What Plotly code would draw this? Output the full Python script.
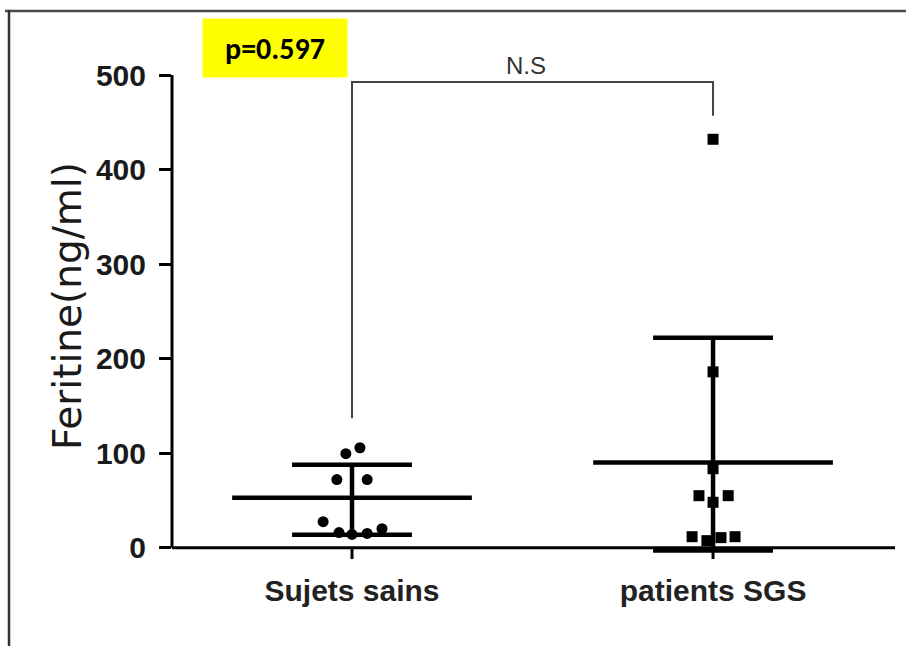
import plotly.graph_objects as go

# ---------------- data ----------------
categories = ["Sujets sains", "patients SGS"]
sains_values = [105.7, 99.4, 72, 72, 27.5, 16, 14, 15, 20]
sgs_values = [432, 186, 83.5, 55, 55, 48, 11.6, 7.4, 10.6, 11.6]
means = [52.8, 90.0]
bar_low = [13.7, -3.0]
bar_high = [87.7, 222.0]
y_ticks = [0, 100, 200, 300, 400, 500]
p_text = "p=0.597"
sig_label = "N.S"
bracket_legs = [137, 457]     # lower ends of the bracket legs (data units)
bracket_top = 492.6

# horizontal scatter spread of the dots (fraction of category spacing)
sains_spread = [0.022, -0.017, -0.042, 0.042, -0.080, -0.036, 0.0, 0.042, 0.083]
sgs_spread = [0.0, 0.0, 0.0, -0.039, 0.042, 0.0, -0.058, -0.017, 0.022, 0.061]

# ---------------- layout geometry ----------------
W, H = 906, 646
L, R, T, B = 172, 11, 75, 87
PW, PH = W - L - R, H - T - B
X_RANGE = [-0.4986, 1.504]
Y_RANGE = [-12, 500]
MEAN_HALF = 0.332
CAP_HALF = 0.166


def px_x(px):
    return (px - L) / PW


def px_y(py):
    return (H - B - py) / PH


fig = go.Figure()

# mean lines, SD bars and caps
for i in range(len(categories)):
    xs = [i - MEAN_HALF, i + MEAN_HALF, None,
          i, i, None,
          i - CAP_HALF, i + CAP_HALF, None,
          i - CAP_HALF, i + CAP_HALF]
    ys = [means[i], means[i], None,
          bar_low[i], bar_high[i], None,
          bar_high[i], bar_high[i], None,
          bar_low[i], bar_low[i]]
    fig.add_trace(go.Scatter(x=xs, y=ys, mode="lines",
                             line=dict(color="black", width=4.5),
                             hoverinfo="skip", showlegend=False))

# dots
fig.add_trace(go.Scatter(
    x=[0 + s for s in sains_spread], y=sains_values, mode="markers",
    marker=dict(symbol="circle", size=11, color="black"),
    showlegend=False, cliponaxis=False))
fig.add_trace(go.Scatter(
    x=[1 + s for s in sgs_spread], y=sgs_values, mode="markers",
    marker=dict(symbol="square", size=11, color="black"),
    showlegend=False, cliponaxis=False))

# significance bracket
fig.add_trace(go.Scatter(
    x=[0, 0, 1, 1], y=[bracket_legs[0], bracket_top, bracket_top, bracket_legs[1]],
    mode="lines", line=dict(color="#444444", width=2),
    hoverinfo="skip", showlegend=False))

shapes = [
    # y axis line (0 -> 500)
    dict(type="line", xref="paper", yref="y", x0=0, x1=0, y0=0, y1=500,
         line=dict(color="black", width=3)),
    # x axis line at y = 0
    dict(type="line", xref="paper", yref="y", x0=0, x1=1, y0=0, y1=0,
         line=dict(color="black", width=3)),
    # image frame: top and left
    dict(type="line", xref="paper", yref="paper", x0=px_x(5), x1=px_x(906),
         y0=px_y(11), y1=px_y(11), line=dict(color="#4a4a4a", width=2.5)),
    dict(type="line", xref="paper", yref="paper", x0=px_x(9), x1=px_x(9),
         y0=px_y(10), y1=px_y(646), line=dict(color="#333333", width=2.5)),
]
# category ticks (downwards from the x axis)
for i in range(len(categories)):
    shapes.append(dict(type="line", xref="x", yref="y", x0=i, x1=i, y0=0, y1=Y_RANGE[0],
                       line=dict(color="black", width=3)))

annotations = [
    dict(text="Feritine(ng/ml)", textangle=-90, xref="paper", yref="paper",
         x=px_x(67), y=px_y(306), showarrow=False, xanchor="center", yanchor="middle",
         font=dict(family="DejaVu Sans", size=39, color="#1a1a1a")),
    dict(text="<b>" + p_text + "</b>", xref="paper", yref="paper",
         x=px_x(275), y=px_y(48), showarrow=False, xanchor="center", yanchor="middle",
         bgcolor="#ffff00", width=144, height=58, borderpad=0,
         font=dict(family="Carlito, Lato", size=30, color="black")),
    dict(text=sig_label, xref="x", yref="paper", x=0.5, xshift=-7,
         y=px_y(66), showarrow=False, xanchor="center", yanchor="middle",
         font=dict(family="Liberation Sans", size=24, color="#333333")),
]

fig.update_layout(
    width=W, height=H,
    margin=dict(l=L, r=R, t=T, b=B, pad=0),
    paper_bgcolor="white", plot_bgcolor="white",
    shapes=shapes, annotations=annotations,
    xaxis=dict(range=X_RANGE, showgrid=False, zeroline=False, showline=False,
               tickvals=list(range(len(categories))), ticktext=categories,
               ticks="", ticklabelstandoff=11,
               tickfont=dict(family="Liberation Sans", size=30, color="#222222", weight="bold")),
    yaxis=dict(range=Y_RANGE, showgrid=False, zeroline=False, showline=False,
               tickvals=y_ticks, ticks="outside", ticklen=12, tickwidth=2.5,
               tickcolor="black", ticklabelstandoff=7,
               tickfont=dict(family="Liberation Sans", size=30, color="#1a1a1a", weight="bold")),
)

fig.write_html("out.html")
